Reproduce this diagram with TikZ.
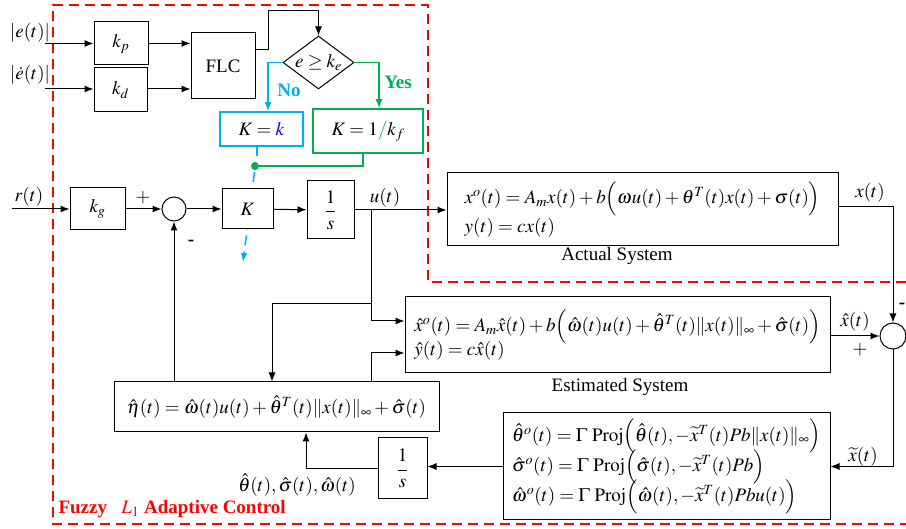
\documentclass[tikz,border=0pt]{standalone}
\usepackage{amsmath}
\usepackage{mathptmx}
\usepackage{fontspec}
\setmainfont{Liberation Serif}
\usetikzlibrary{arrows.meta,shapes.geometric,positioning}

\definecolor{loopred}{RGB}{255,0,0}
\definecolor{nocyan}{RGB}{0,176,240}
\definecolor{yesgreen}{RGB}{0,176,80}

\tikzset{
    block/.style={draw, line width=1pt, fill=white, inner sep=2pt},
    junction/.style={draw, circle, line width=1pt, inner sep=0pt},
    sig/.style={inner sep=0pt},
}

\begin{document}
\begin{tikzpicture}[x=1pt,y=-1pt,>={Latex[length=9pt,width=7pt]},line width=1pt,
    every node/.style={font=\fontsize{19}{23}\selectfont}]
    \useasboundingbox (0,0) rectangle (906,529);

    % controller boundary
    \draw[loopred, line width=2.2pt, dash pattern=on 10pt off 6pt]
        (906,282) -- (428,282) -- (428,5) -- (53,5) -- (53,524) -- (906,524);
    \node[sig, text=loopred, anchor=west] (title) at (58,509) {\textbf{Fuzzy}\ \ \ $L_1$ \textbf{Adaptive Control}};

    % gain scheduling
    \node[block, minimum width=54pt, minimum height=43pt] (kp) at (121,43.5) {$k_p$};
    \node[block, minimum width=53pt, minimum height=44pt] (kd) at (120.5,90) {$k_d$};
    \node[block, minimum width=64pt, minimum height=66pt] (flc) at (223,66) {FLC};
    \node[draw, diamond, aspect=1.34, line width=1pt, inner sep=0pt,
          minimum width=71pt, minimum height=53pt] (dec) at (318.5,62.5) {$e\geq k_e$};
    \node[draw=nocyan, line width=1.5pt, minimum width=83pt, minimum height=34pt] (kk) at (261.5,129)
        {$K=\textcolor{blue}{k}$};
    \node[draw=yesgreen, line width=1.5pt, minimum width=110pt, minimum height=44pt] (kf) at (368,131)
        {$K=1\textcolor{yesgreen}{/}k_f$};

    \coordinate (ein) at (45,43.5);
    \coordinate (edin) at (45,89);
    \node[sig] (elabel) at (30,33) {$\left|e(t)\right|$};
    \node[sig] (edlabel) at (30,75) {$\left|\dot{e}(t)\right|$};
    \draw[->] (ein) -- (kp.west);
    \draw[->] (edin) -- (edin -| kd.west);
    \draw[->] (kp.east) -- (kp.east -| flc.west);
    \draw[->] (edin -| kd.east) -- (edin -| flc.west);
    \draw[->] ([yshift=16pt]flc.east) -- (268,50) -- (268,11) -| (dec.north);

    \draw[nocyan, line width=1.5pt, ->] (dec.west) -| ([xshift=6.5pt]kk.north);
    \draw[yesgreen, line width=1.5pt, ->] (dec.east) -| ([xshift=11pt]kf.north);
    \node[sig, text=nocyan] (nolabel) at (289,90) {\textbf{No}};
    \node[sig, text=yesgreen] (yeslabel) at (398,82) {\textbf{Yes}};

    \coordinate (gdot) at (255,166);
    \draw[yesgreen, line width=1.5pt] ([xshift=-5pt]kf.south) |- (gdot);
    \fill[yesgreen] (gdot) circle (4pt);
    \draw[nocyan, line width=1.5pt] ([xshift=-4.5pt]kk.south) -- ++(0,9);
    \draw[nocyan, line width=1.5pt, dash pattern=on 10pt off 6pt, ->] (254.5,172) -- (243,262);

    % main loop
    \node[block, minimum width=55pt, minimum height=42pt] (kg) at (97.5,209) {$k_g$};
    \node[junction, minimum size=24pt] (sum1) at (174,209) {};
    \node[block, minimum width=51pt, minimum height=40pt] (kgain) at (247.5,209) {$K$};
    \node[block, minimum width=47pt, minimum height=58pt] (int1) at (330.5,210) {$\dfrac{1}{s}$};
    \node[block, minimum width=391pt, minimum height=73pt, align=left] (act) at (642.5,209.5)
        {$x^{o}(t) = A_m x(t) + b\Big(\omega u(t) + \theta^{T}(t)x(t) + \sigma(t)\Big)$\\[1pt]
         $y(t) = cx(t)$};
    \node[sig] (actlabel) at (617,256) {Actual System};
    \node[block, minimum width=425pt, minimum height=76pt, align=left] (est) at (617.5,335)
        {$\hat{x}^{o}(t) = A_m\hat{x}(t) + b\Big(\hat{\omega}(t)u(t) + \hat{\theta}^{T}(t)\|x(t)\|_\infty + \hat{\sigma}(t)\Big)$\\[-3pt]
         $\hat{y}(t) = c\hat{x}(t)$};
    \node[sig] (estlabel) at (620,387) {Estimated System};
    \node[junction, minimum size=26pt] (sum2) at (893,336) {};
    \node[block, minimum width=325pt, minimum height=50pt] (eta) at (276.5,407)
        {$\hat{\eta}(t) = \hat{\omega}(t)u(t) + \hat{\theta}^{T}(t)\|x(t)\|_\infty + \hat{\sigma}(t)$};
    \node[block, minimum width=49pt, minimum height=61pt] (int2) at (402.5,468.5) {$\dfrac{1}{s}$};
    \node[block, minimum width=327pt, minimum height=107pt, align=left] (proj) at (666.5,466.5)
        {$\hat{\theta}^{o}(t) = \Gamma\ \mathrm{Proj}\Big(\hat{\theta}(t),-\widetilde{x}^{T}(t)Pb\|x(t)\|_\infty\Big)$\\[-5pt]
         $\hat{\sigma}^{o}(t) = \Gamma\ \mathrm{Proj}\Big(\hat{\sigma}(t),-\widetilde{x}^{T}(t)Pb\Big)$\\[-5pt]
         $\hat{\omega}^{o}(t) = \Gamma\ \mathrm{Proj}\Big(\hat{\omega}(t),-\widetilde{x}^{T}(t)Pbu(t)\Big)$};

    \coordinate (rin) at (12,209);
    \coordinate (ujn) at (371,210);
    \coordinate (ubr) at (371,304);
    \node[sig] (rlabel) at (29,197) {$r(t)$};
    \node[sig] (ulabel) at (385,198) {$u(t)$};
    \node[sig] (xlabel) at (870,193) {$x(t)$};
    \node[sig] (xhlabel) at (855,322) {$\hat{x}(t)$};
    \node[sig] (xtlabel) at (863,457) {$\widetilde{x}(t)$};
    \node[sig] (plabel) at (297,485) {$\hat{\theta}(t),\hat{\sigma}(t),\hat{\omega}(t)$};
    \node[sig] (plus1) at (143,198) {$+$};
    \node[sig] (minus1) at (191,243) {\textbf{-}};
    \node[sig] (plus2) at (860,350) {$+$};
    \node[sig] (minus2) at (902,306) {\textbf{-}};

    \draw[->] (rin) -- (kg.west);
    \draw[->] (kg) -- (sum1);
    \draw[->] (sum1) -- (kgain);
    \draw[->] (kgain) -- (int1);
    \draw[->] (int1.east) -- (int1.east -| act.west);
    \draw[->] (ujn) |- ([yshift=14pt]est.west);
    \draw[->] (ubr) -| ([xshift=-4.5pt]eta.north);
    \draw[->] (eta.north -| sum1) -- (sum1);
    \draw[->] (eta.north -| ujn) |- ([yshift=-18pt]est.west);
    \draw[->] ([yshift=2.5pt]act.east) -| (sum2.north);
    \draw[->] (est.east |- sum2) -- (sum2.west);
    \draw[->] (sum2.south) |- (sum2.south |- proj.east) -- (proj.east);
    \draw[->] (proj.west) -- (proj.west -| int2.east);
    \draw[->] (int2.west) -| ([xshift=29.5pt]eta.south);
\end{tikzpicture}
\end{document}
